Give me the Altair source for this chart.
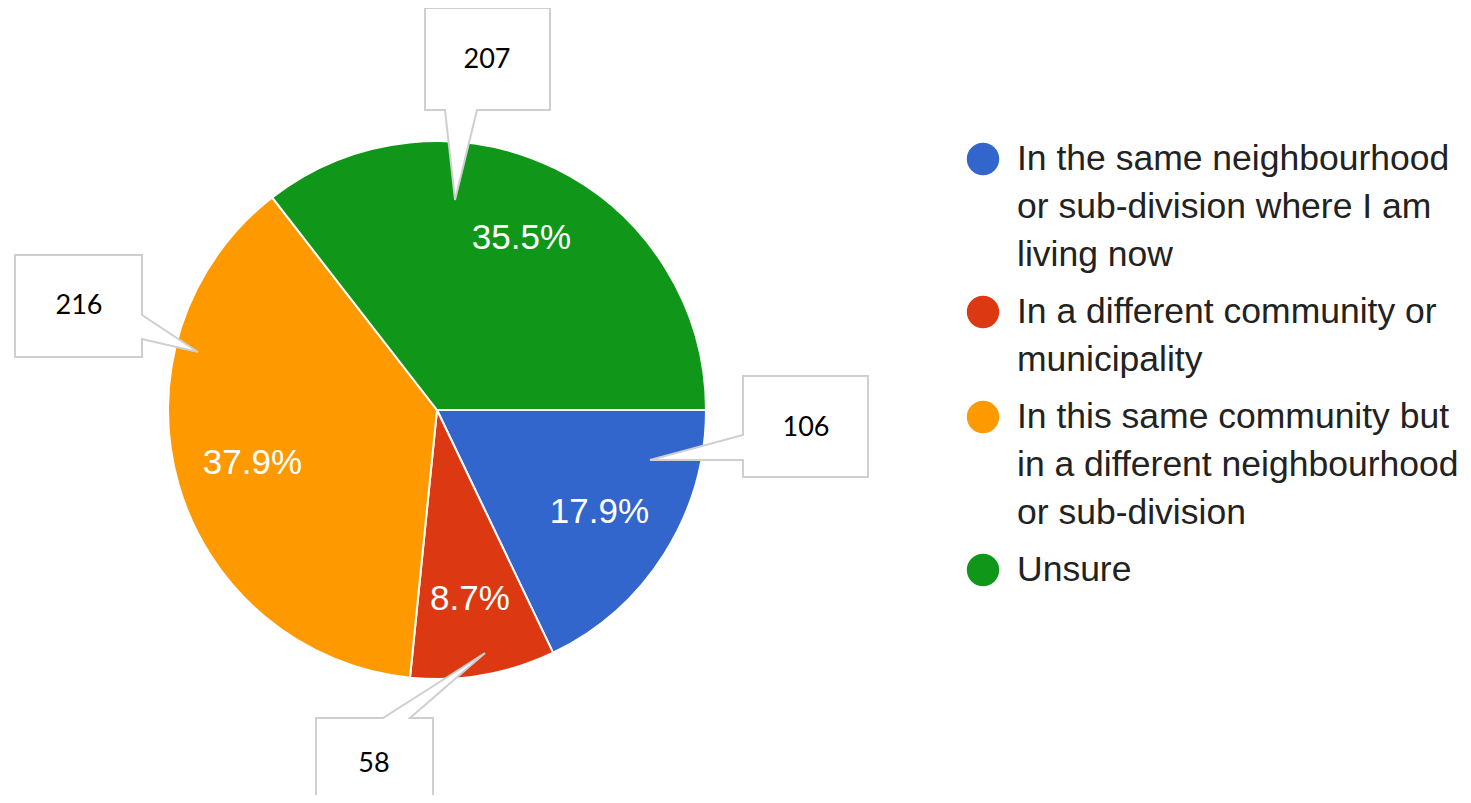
import altair as alt
import pandas as pd

# ---------------- data ----------------
categories = [
    "In the same neighbourhood or sub-division where I am living now",
    "In a different community or municipality",
    "In this same community but in a different neighbourhood or sub-division",
    "Unsure",
]
percentages = [17.9, 8.7, 37.9, 35.5]
pct_labels = ["17.9%", "8.7%", "37.9%", "35.5%"]
callout_counts = ["106", "58", "216", "207"]
legend_lines = [
    ["In the same neighbourhood", "or sub-division where I am", "living now"],
    ["In a different community or", "municipality"],
    ["In this same community but", "in a different neighbourhood", "or sub-division"],
    ["Unsure"],
]
colors = ["#3366cc", "#dc3912", "#ff9900", "#109618"]

# ---------------- layout (page pixels; page margin 8) ----------------
M = 8
W, H = 1471 - 2 * M, 803 - 2 * M
CX, CY, R = 437 - M, 410 - M, 269
LABEL_R = 192

# callout bubbles: polygons in page pixels and text centres
bubbles = {
    "106": ([(743, 376), (868, 376), (868, 477), (743, 477), (743, 460), (650, 460), (743, 435)], (806, 428)),
    "58": ([(316, 718), (383, 718), (485, 653), (410, 718), (433, 718), (433, 830), (316, 830)], (374, 764)),
    "216": ([(15, 255), (142, 255), (142, 315), (198, 352), (142, 339), (142, 357), (15, 357)], (79, 306)),
    "207": ([(425, 8), (550, 8), (550, 110), (477, 110), (455, 200), (445, 110), (425, 110)], (487, 60)),
}

LEG_DOT_X, LEG_TEXT_X = 983, 1017
LEG_Y0, LEG_LINE_H, LEG_GAP = 159, 48, 9

# ---------------- tables ----------------
pie_df = pd.DataFrame({
    "category": categories,
    "pct": percentages,
    "label": pct_labels,
    "idx": list(range(len(categories))),
})

features = []
callout_rows = []
for c in callout_counts:
    poly, (tx, ty) = bubbles[c]
    ring = [[x - M, y - M] for x, y in poly]
    ring.append(ring[0])
    features.append({
        "type": "Feature",
        "properties": {"count": c},
        "geometry": {"type": "Polygon", "coordinates": [ring]},
    })
    callout_rows.append({"count": c, "x": tx - M, "y": ty - M})
callout_df = pd.DataFrame(callout_rows)

leg_dots, leg_text = [], []
line_no = 0
for i, (cat, lines) in enumerate(zip(categories, legend_lines)):
    y_first = LEG_Y0 + line_no * LEG_LINE_H + i * LEG_GAP
    leg_dots.append({"category": cat, "x": LEG_DOT_X - M, "y": y_first - M})
    for j, ln in enumerate(lines):
        leg_text.append({"text": ln, "x": LEG_TEXT_X - M, "y": y_first + j * LEG_LINE_H - M})
    line_no += len(lines)
leg_dots_df = pd.DataFrame(leg_dots)
leg_text_df = pd.DataFrame(leg_text)

# ---------------- scales ----------------
PI = 3.141592653589793
color_scale = alt.Scale(domain=categories, range=colors)
theta_scale = alt.Scale(range=[PI / 2, PI / 2 + 2 * PI])
xs = alt.Scale(domain=[0, W], range=[0, W], nice=False, zero=False)
ys = alt.Scale(domain=[0, H], range=[0, H], nice=False, zero=False)

# ---------------- pie ----------------
base = alt.Chart(pie_df).encode(
    theta=alt.Theta("pct:Q", stack=True, scale=theta_scale),
    order=alt.Order("idx:O"),
)
pie = base.mark_arc(radius=R, stroke="white", strokeWidth=2).encode(
    color=alt.Color("category:N", scale=color_scale, legend=None),
    x=alt.value(CX), y=alt.value(CY),
)
pct_text = base.mark_text(
    radius=LABEL_R, fontSize=35, font="Liberation Sans", color="white",
    align="center", baseline="middle",
).encode(text="label:N", x=alt.value(CX), y=alt.value(CY))

# ---------------- callouts ----------------
bubble_shapes = alt.Chart(alt.Data(values=features)).mark_geoshape(
    fill="white", stroke="#cfcfcf", strokeWidth=2
).project(type="identity", scale=1, translate=[0, 0])

bubble_text = alt.Chart(callout_df).mark_text(
    font="Lato", fontSize=27, color="black", align="center", baseline="middle"
).encode(
    x=alt.X("x:Q", scale=xs, axis=None),
    y=alt.Y("y:Q", scale=ys, axis=None),
    text="count:N",
)

# ---------------- legend ----------------
leg_dot_layer = alt.Chart(leg_dots_df).mark_circle(size=1050, opacity=1).encode(
    x=alt.X("x:Q", scale=xs, axis=None),
    y=alt.Y("y:Q", scale=ys, axis=None),
    color=alt.Color("category:N", scale=color_scale, legend=None),
)
leg_text_layer = alt.Chart(leg_text_df).mark_text(
    font="Liberation Sans", fontSize=35.5, color="#222222", align="left", baseline="middle"
).encode(
    x=alt.X("x:Q", scale=xs, axis=None),
    y=alt.Y("y:Q", scale=ys, axis=None),
    text="text:N",
)

chart = alt.layer(
    pie, pct_text, bubble_shapes, bubble_text, leg_dot_layer, leg_text_layer
).properties(
    width=W, height=H, padding=0, autosize=alt.AutoSizeParams(type="none"),
).configure(background="white").configure_view(stroke=None, strokeWidth=0)

chart.save("out.html", embed_options={"renderer": "svg", "actions": False})
